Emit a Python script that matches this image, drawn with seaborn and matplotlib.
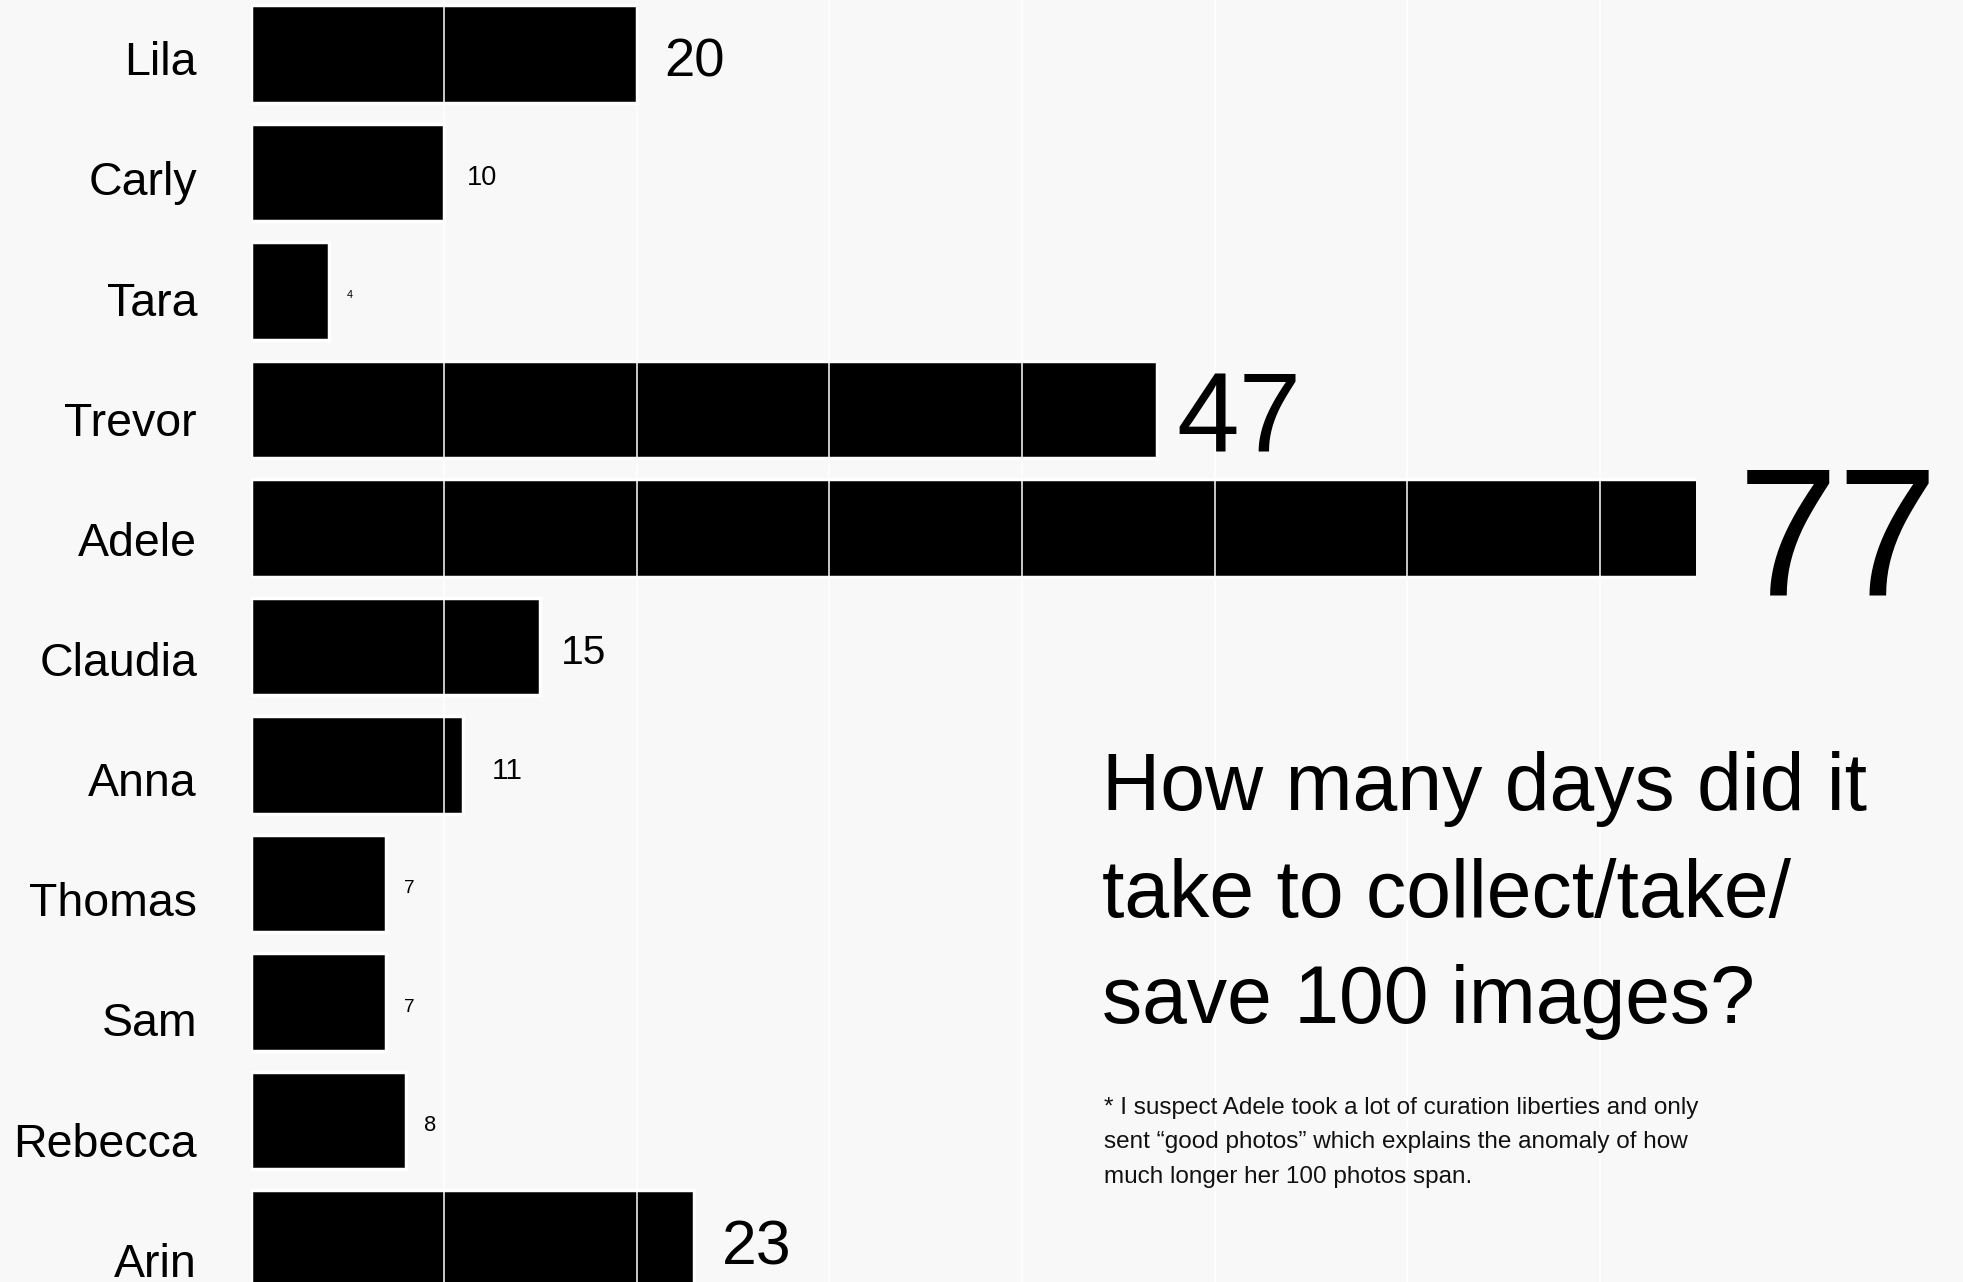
import numpy as np
import pandas as pd
import matplotlib
matplotlib.use("Agg")
import matplotlib.pyplot as plt
import matplotlib.transforms as mtransforms
import seaborn as sns

names = ["Lila", "Carly", "Tara", "Trevor", "Adele", "Claudia", "Anna",
         "Thomas", "Sam", "Rebecca", "Arin"]
days = [20, 10, 4, 47, 77, 15, 11, 7, 7, 8, 23]
title_lines = ["How many days did it", "take to collect/take/", "save 100 images?"]
note_lines = ["* I suspect Adele took a lot of curation liberties and only",
              "sent \u201cgood photos\u201d which explains the anomaly of how",
              "much longer her 100 photos span."]

BG = "#f8f8f8"
FONT = ["Liberation Sans", "DejaVu Sans"]

sns.set_theme(style="white")
plt.rcParams["font.family"] = FONT

W, H = 1963, 1282
fig = plt.figure(figsize=(W / 100, H / 100), dpi=100, facecolor=BG)
ax_left, ax_right = 251.5, 1696
ax = fig.add_axes([ax_left / W, 0, (ax_right - ax_left) / W, 1])
ax.set_facecolor(BG)

df = pd.DataFrame({"name": names, "days": days})
sns.barplot(data=df, x="days", y="name", orient="h", color="black",
            saturation=1, edgecolor="white", linewidth=2.5, width=0.823,
            ax=ax, zorder=2)

# grid lines every 10 days, drawn over the bars
for gx in range(10, 80, 10):
    ax.axvline(gx, color="white", lw=1.1, zorder=3)

pitch = 118.5
ax.set_xlim(0, 75)
ax.set_ylim((H - 54) / pitch, -54 / pitch)
ax.set_xlabel("")
ax.set_ylabel("")
ax.set_xticks([])
ax.set_yticks([])
for s in ax.spines.values():
    s.set_visible(False)

# value labels, size grows with value
for i, v in enumerate(days):
    fs = float(np.interp(v, [0, 23, 47, 77], [0, 45, 81, 130]))
    off_px = float(np.interp(v, [0, 8, 10, 11, 15, 20, 47, 77],
                             [18, 18, 23, 28, 20, 28, 20, 3]))
    ax.annotate(str(v), xy=(v, i), xytext=(off_px * 0.72, -0.36 * fs - 2),
                textcoords="offset points", ha="left", va="baseline",
                fontsize=fs, color="black", annotation_clip=False,
                fontfamily=FONT)

# name labels
trans = mtransforms.blended_transform_factory(fig.transFigure, ax.transData)
for i, n in enumerate(names):
    base_px = 75.2 + 120.15 * i
    ax.text(197 / W, (base_px - 54) / pitch, n, transform=trans, ha="right",
            va="baseline", fontsize=33.5, color="black", fontfamily=FONT,
            clip_on=False)

# title
for k, line in enumerate(title_lines):
    fig.text(1102 / W, 1 - (810 + 106.5 * k) / H, line, ha="left",
             va="baseline", fontsize=58, color="black", fontfamily=FONT)

# footnote
for k, line in enumerate(note_lines):
    fig.text(1104 / W, 1 - (1114 + 34.3 * k) / H, line, ha="left",
             va="baseline", fontsize=17.5, color="#111111", fontfamily=FONT)

fig.savefig("out.png", dpi=100, facecolor=BG)
